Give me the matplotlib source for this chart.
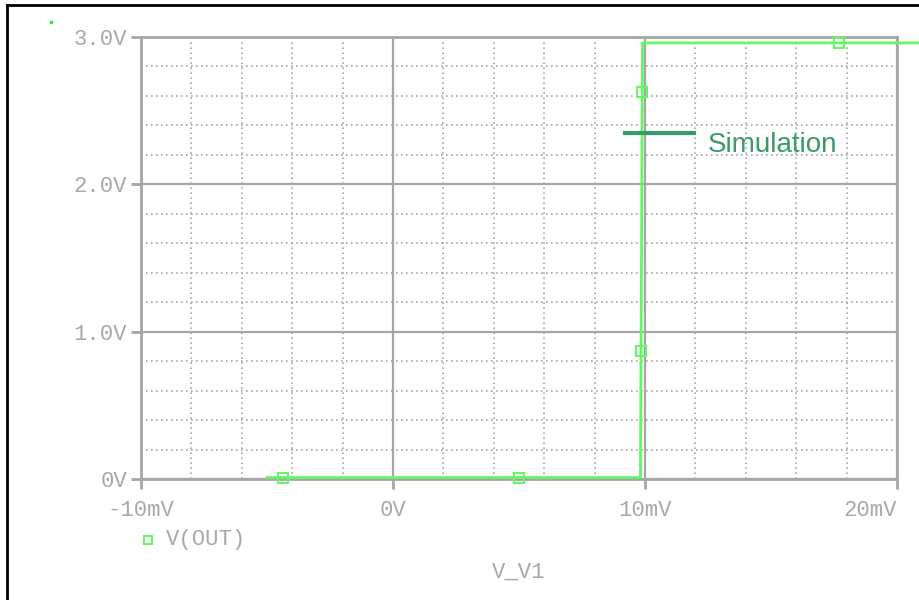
import numpy as np
import matplotlib
matplotlib.use("Agg")
import matplotlib.pyplot as plt
from matplotlib.lines import Line2D
from matplotlib.ticker import MultipleLocator

# V(OUT) vs V_V1 sweep (x in mV, y in V)
v_v1 = [-5.0, -4.35, 5.0, 9.82, 9.843, 9.891, 9.90, 17.7, 21.0]
v_out = [0.01, 0.01, 0.01, 0.01, 0.87, 2.63, 2.96, 2.96, 2.96]
marker_idx = [1, 2, 4, 5, 7]

x_ticks = [-10, 0, 10, 20]
x_labels = ["-10mV", "0V", "10mV", "20mV"]
y_ticks = [0, 1, 2, 3]
y_labels = ["0V", "1.0V", "2.0V", "3.0V"]

GRAY = "#a6a6a6"
TXT = "#a8a8a8"
GREEN = "#66f566"
DARK = "#3a9a6a"
MONO = "Liberation Mono"

W, H = 920, 600
fig = plt.figure(figsize=(W / 100, H / 100), dpi=100)
ax = fig.add_axes([141 / W, 1 - 479 / H, (897 - 141) / W, (479 - 37) / H])

ax.set_xlim(-10, 20)
ax.set_ylim(0, 3)

#---------------- grid
ax.xaxis.set_minor_locator(MultipleLocator(2))
ax.yaxis.set_minor_locator(MultipleLocator(0.2))
ax.grid(which="minor", color=GRAY, linestyle=(0, (1, 2)), linewidth=1.2)
ax.grid(which="major", color=GRAY, linestyle="-", linewidth=1.6)
ax.set_axisbelow(True)
for s in ax.spines.values():
    s.set_color(GRAY)
    s.set_linewidth(2)

ax.set_xticks(x_ticks)
ax.set_xticklabels(x_labels)
ax.set_yticks(y_ticks)
ax.set_yticklabels(y_labels)
ax.tick_params(which="major", length=7, width=2, color=GRAY, labelcolor=TXT,
               labelsize=16, direction="out")
ax.tick_params(axis="x", pad=8)
ax.tick_params(axis="y", pad=3)
ax.tick_params(which="minor", length=0)
for lab in ax.get_xticklabels() + ax.get_yticklabels():
    lab.set_fontfamily(MONO)
ax.get_xticklabels()[-1].set_horizontalalignment("right")

#---------------- trace
ax.plot(v_v1, v_out, color=GREEN, linewidth=2, marker="s", markersize=6.5,
        markerfacecolor="none", markeredgecolor=GREEN, markeredgewidth=1.5,
        markevery=marker_idx, clip_on=False, zorder=5)

# annotation
ax.plot([9.2, 11.95], [2.35, 2.35], color=DARK, linewidth=3, zorder=6)
ax.text(12.5, 2.27, "Simulation", color=DARK, fontsize=20,
        family="Liberation Sans", va="center", ha="left")

# legend and axis name below the plot
fig.lines.append(Line2D([148 / W], [1 - 540 / H], marker="s", markersize=6,
                        markerfacecolor="none", markeredgecolor=GREEN,
                        markeredgewidth=1.5, transform=fig.transFigure))
fig.text(166 / W, 1 - 540 / H, "V(OUT)", color=TXT, fontsize=16,
         family=MONO, va="center", ha="left")
fig.text(519 / W, 1 - 572 / H, "V_V1", color=TXT, fontsize=16,
         family=MONO, va="center", ha="center")

# frame on the left and top
fig.lines.append(Line2D([7 / W, 7 / W], [0, 1 - 5 / H], color="black",
                        linewidth=2, transform=fig.transFigure))
fig.lines.append(Line2D([7 / W, 1], [1 - 5 / H, 1 - 5 / H], color="black",
                        linewidth=2, transform=fig.transFigure))
fig.lines.append(Line2D([51 / W], [1 - 22 / H], marker="s", markersize=1.5,
                        color="#33ee33", linestyle="none",
                        transform=fig.transFigure))

fig.savefig("out.png", dpi=100)
